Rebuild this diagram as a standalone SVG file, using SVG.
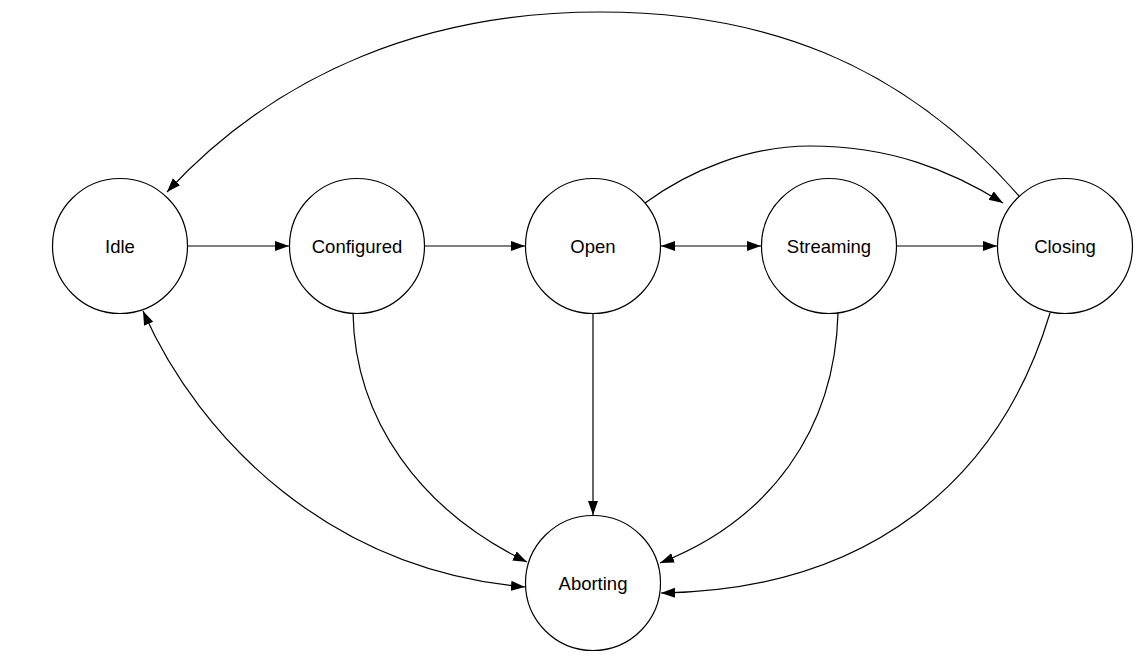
<svg xmlns="http://www.w3.org/2000/svg" width="1143" height="666" viewBox="0 0 1143 666">
<style>
.node circle{fill:#fff;stroke:#000;stroke-width:1.2}
.node text{font-family:"Liberation Sans",Arial,sans-serif;font-size:18.5px;fill:#000;text-anchor:middle;dominant-baseline:central}
#edges path{fill:none;stroke:#000;stroke-width:1.2}
</style>
<defs>
<marker id="arr" markerUnits="userSpaceOnUse" markerWidth="15" markerHeight="11" refX="14" refY="5" orient="auto-start-reverse">
<path d="M0,0 L14,5 L0,10 z" fill="#000"/>
</marker>
</defs>
<rect width="1143" height="666" fill="#fff"/>
<g id="edges">
<path d="M188,246 L289,246" marker-end="url(#arr)"/>
<path d="M425,246 L525,246" marker-end="url(#arr)"/>
<path d="M661,246 L761,246" marker-start="url(#arr)" marker-end="url(#arr)"/>
<path d="M897,246 L997,246" marker-end="url(#arr)"/>
<path d="M1019,196 C900,60 760,12 600,12 C430,12 280,70 167,192" marker-end="url(#arr)"/>
<path d="M645,203 C690,170 750,146 810,146 C890,146 950,170 1003,203" marker-end="url(#arr)"/>
<path d="M143,311 C200,440 330,570 525,587" marker-start="url(#arr)" marker-end="url(#arr)"/>
<path d="M353,313 C355,420 420,510 527,562" marker-end="url(#arr)"/>
<path d="M593,313 L593,515" marker-end="url(#arr)"/>
<path d="M838,313 C835,430 770,520 660,563" marker-end="url(#arr)"/>
<path d="M1050,313 C1000,480 870,590 661,593" marker-end="url(#arr)"/>
</g>
<g id="idle" class="node"><circle cx="120" cy="246" r="67.5"/><text x="120" y="246">Idle</text></g>
<g id="configured" class="node"><circle cx="357" cy="246" r="67.5"/><text x="357" y="246">Configured</text></g>
<g id="open" class="node"><circle cx="593" cy="246" r="67.5"/><text x="593" y="246">Open</text></g>
<g id="streaming" class="node"><circle cx="829" cy="246" r="67.5"/><text x="829" y="246">Streaming</text></g>
<g id="closing" class="node"><circle cx="1065" cy="246" r="67.5"/><text x="1065" y="246">Closing</text></g>
<g id="aborting" class="node"><circle cx="593" cy="583" r="67.5"/><text x="593" y="583">Aborting</text></g>
</svg>
